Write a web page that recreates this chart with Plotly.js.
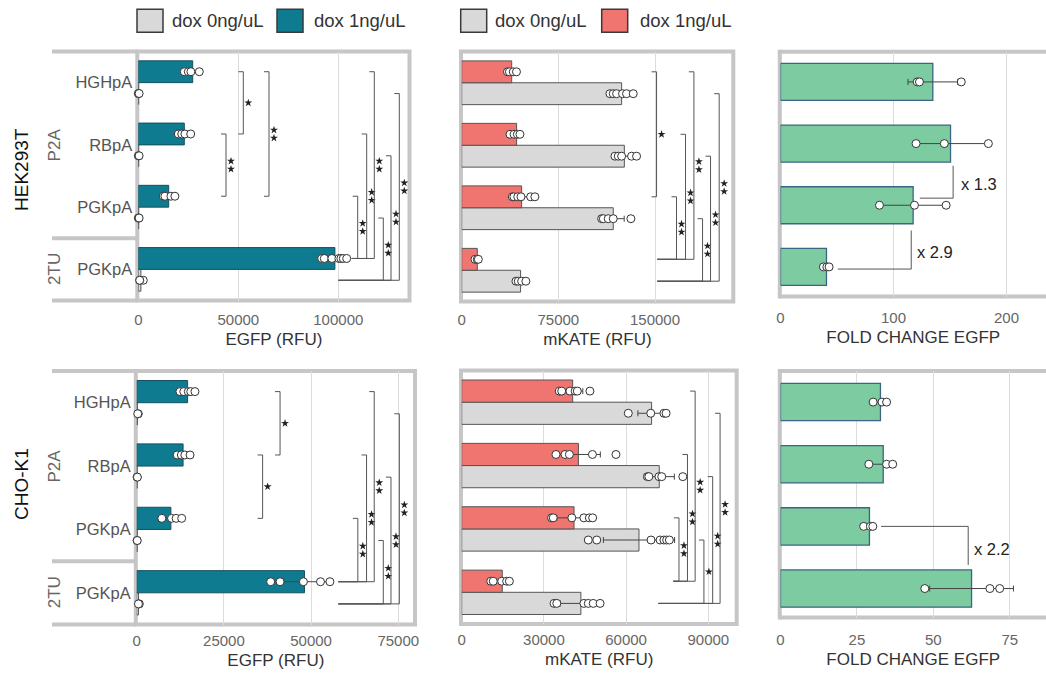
<!DOCTYPE html>
<html><head><meta charset="utf-8">
<script src="https://cdn.plot.ly/plotly-3.0.1.min.js"></script>
<style>html,body{margin:0;padding:0;background:#fff}#chart{width:1046px;height:673px}</style>
</head><body><div id="chart"></div>
<script>
// ---------------- DATA ----------------
const categories = ['HGHpA', 'RBpA', 'PGKpA', 'PGKpA'];
const constructGroups = ['P2A', '2TU'];
const cellLines = ['HEK293T', 'CHO-K1'];
const doseLabels = ['dox 0ng/uL', 'dox 1ng/uL'];
const axisTitles = ['EGFP (RFU)', 'mKATE (RFU)', 'FOLD CHANGE EGFP'];

// HEK293T - EGFP
const hekEgfpDox1 = [27200, 23000, 15200, 98300];
const hekEgfpDox1Err = [3000, 2600, 2600, 4500];
const hekEgfpDox1Pts = [[23000, 25000, 26300, 30500], [20000, 21700, 23300, 26200], [12500, 13300, 16300, 18300], [91700, 93000, 96800, 100300, 101300, 102500, 104200]];
const hekEgfpDox0 = [200, 200, 200, 1300];
const hekEgfpDox0Err = [100, 100, 100, 1200];
const hekEgfpDox0Pts = [[0, 200, 400], [0, 200, 400], [0, 200, 400], [2500, 700, 700]];

// HEK293T - mKATE
const hekMkateDox1 = [38800, 42600, 46500, 12100];
const hekMkateDox1Err = [2500, 3000, 6500, 800];
const hekMkateDox1Pts = [[35500, 37000, 40000, 42500], [37500, 40600, 43200, 45200], [39300, 40500, 43500, 46000, 53500, 56800], [10300, 12100, 12900]];
const hekMkateDox0 = [124100, 126200, 117600, 45700];
const hekMkateDox0Err = [6500, 6500, 8500, 3000];
const hekMkateDox0Pts = [[115000, 117600, 120200, 124800, 127900, 133100], [118900, 121500, 124100, 131800, 135700], [108600, 109900, 113700, 117600, 131300], [42100, 43900, 46500, 49800]];

// HEK293T - fold change EGFP
const hekFold = [134.8, 150.5, 117.4, 40.7];
const hekFoldErr = [22, 32, 29.5, 2.5];
const hekFoldPts = [[121, 123, 160], [120, 145, 184], [87.6, 118.6, 146.6], [38, 41, 43]];

// CHO-K1 - EGFP
const choEgfpDox1 = [14600, 13300, 9800, 48100];
const choEgfpDox1Err = [1700, 1500, 2400, 7000];
const choEgfpDox1Pts = [[12400, 13500, 14800, 15500, 16700], [11600, 12800, 13800, 15300], [7200, 10000, 11300, 12900], [38400, 41100, 47800, 52700, 55400]];
const choEgfpDox0 = [200, 150, 150, 500];
const choEgfpDox0Err = [100, 100, 100, 200];
const choEgfpDox0Pts = [[460, 300], [100, 200], [100, 150], [750, 500]];

// CHO-K1 - mKATE
const choMkateDox1 = [40500, 42600, 41000, 14800];
const choMkateDox1Err = [3700, 8000, 6300, 2900];
const choMkateDox1Pts = [[35600, 36500, 39500, 41400, 42200, 46800], [34400, 37700, 39300, 47700, 56300], [32800, 33400, 40200, 44600, 46600, 47800], [10600, 11500, 14600, 16400, 17400]];
const choMkateDox0 = [69300, 72100, 64700, 43500];
const choMkateDox0Err = [5000, 5500, 13000, 7500];
const choMkateDox0Pts = [[60800, 69000, 73800, 74600], [67800, 68300, 72000, 73000, 80700], [46200, 49300, 69100, 72400, 73800, 74800, 75800], [33700, 34700, 44600, 46200, 48000, 50500]];

// CHO-K1 - fold change EGFP
const choFold = [32.7, 33.6, 29.1, 62.5];
const choFoldErr = [2.2, 4, 1.6, 13.7];
const choFoldPts = [[30.3, 33.2, 34.7], [28.9, 34.7, 36.7], [27.2, 29.4, 30.2], [47.2, 68.5, 71.7]];

// significance comparisons: [catA, doseA, catB, doseB, bracket level, number of stars, baseline start]
const hekEgfpSig = [
  [0, 1, 1, 1, 52500, 1, null], [0, 1, 2, 1, 65350, 2, null], [1, 1, 2, 1, 43850, 2, null],
  [2, 1, 3, 1, 109700, 2, 106700], [1, 1, 3, 1, 114200, 2, 106700], [0, 1, 3, 1, 118000, 2, 106700],
  [2, 0, 3, 0, 122500, 2, 100000], [1, 0, 3, 0, 126350, 2, 100000], [0, 0, 3, 0, 130500, 2, 100000]];
const hekMkateSig = [
  [0, 1, 2, 1, 151200, 1, null],
  [2, 1, 3, 1, 166700, 2, 151700], [1, 1, 3, 1, 173700, 2, 151700], [0, 1, 3, 1, 180200, 2, 151700],
  [2, 0, 3, 0, 186900, 2, 151700], [1, 0, 3, 0, 193100, 2, 151700], [0, 0, 3, 0, 199800, 2, 151700]];
const choEgfpSig = [
  [0, 1, 1, 1, 41100, 1, null], [1, 1, 2, 1, 36100, 1, null],
  [2, 1, 3, 1, 63400, 2, 57800], [1, 1, 3, 1, 65900, 2, 57800], [0, 1, 3, 1, 68100, 2, 57800],
  [2, 0, 3, 0, 70700, 2, 57800], [1, 0, 3, 0, 72900, 2, 57800], [0, 0, 3, 0, 75300, 2, 57800]];
const choMkateSig = [
  [2, 1, 3, 1, 79300, 2, 77200], [1, 1, 3, 1, 82400, 2, 77200], [0, 1, 3, 1, 85200, 2, 77200],
  [2, 0, 3, 0, 88400, 1, 71800], [1, 0, 3, 0, 91600, 2, 71800], [0, 0, 3, 0, 94300, 2, 71800]];

// fold-change ratio callouts
const hekRatioLabels = ['x 1.3', 'x 2.9'];
const choRatioLabels = ['x 2.2'];

// ---------------- LAYOUT HELPERS ----------------
const W = 1046, H = 673;
const OFF = 0.175, BW = 0.35, FBW = 0.6;
const FONT = 'Liberation Sans, Arial, Helvetica, sans-serif';
const C = {gray: '#d9d9d9', teal: '#0e7b90', red: '#f07470', green: '#7ccba1', frame: '#c6c6c6', br: '#555'};
const fx = px => px / W;
const fy = py => 1 - py / H;

const panels = [
  {k: 1, px: [138.3, 409.5], py: [51.5, 300.5], max: 135600, yr: [3.5, -0.5], tv: [0, 50000, 100000], title: axisTitles[0], labels: true, tls: 8},
  {k: 2, px: [461.7, 733.3], py: [51.5, 301.5], max: 210760, yr: [3.5, -0.5], tv: [0, 75000, 150000], title: axisTitles[1], tls: 7},
  {k: 3, px: [780.5, 1046], py: [51.7, 296.5], max: 235, yr: [3.48, -0.49], tv: [0, 100, 200], title: axisTitles[2], tls: 10},
  {k: 4, px: [136.7, 415], py: [371, 624.5], max: 79790, yr: [3.5, -0.5], tv: [0, 25000, 50000, 75000], title: axisTitles[0], labels: true, tls: 5},
  {k: 5, px: [461.7, 736.7], py: [370.5, 624], max: 100365, yr: [3.5, -0.5], tv: [0, 30000, 60000, 90000], title: axisTitles[1], tls: 5},
  {k: 6, px: [780.5, 1046], py: [371, 617.5], max: 86.85, yr: [3.466, -0.5], tv: [0, 25, 50, 75], title: axisTitles[2], tls: 11}
];
const ax = k => (k === 1 ? '' : String(k));

const traces = [];
const shapes = [];
const annotations = [];

function addBars(k, vals, errs, off, width, fill, edge, ew) {
  traces.push({
    type: 'bar', orientation: 'h', x: vals, y: vals.map((_, i) => i + off), width: width,
    xaxis: 'x' + ax(k), yaxis: 'y' + ax(k),
    marker: {color: fill, line: {color: edge, width: ew || 1}},
    error_x: {type: 'data', array: errs, visible: true, color: '#444', thickness: 1, width: 3},
    showlegend: false, hoverinfo: 'x'
  });
}
function addPts(k, pts, off) {
  const x = [], y = [];
  pts.forEach((arr, i) => arr.forEach(v => { x.push(v); y.push(i + off); }));
  traces.push({
    type: 'scatter', mode: 'markers', x: x, y: y, xaxis: 'x' + ax(k), yaxis: 'y' + ax(k),
    marker: {size: 8, color: '#fff', line: {color: '#333', width: 1}},
    cliponaxis: false, showlegend: false, hoverinfo: 'x'
  });
}
function dosePanel(k, d0, e0, p0, d1, e1, p1, c1, c1edge) {
  addBars(k, d0, e0, OFF, BW, C.gray, '#555');
  addBars(k, d1, e1, -OFF, BW, c1, c1edge);
  addPts(k, p0, OFF);
  addPts(k, p1, -OFF);
}
function foldPanel(k, v, e, p) {
  addBars(k, v, e, 0, FBW, C.green, '#3a6680', 1.3);
  addPts(k, p, 0);
}

dosePanel(1, hekEgfpDox0, hekEgfpDox0Err, hekEgfpDox0Pts, hekEgfpDox1, hekEgfpDox1Err, hekEgfpDox1Pts, C.teal, '#16505c');
dosePanel(2, hekMkateDox0, hekMkateDox0Err, hekMkateDox0Pts, hekMkateDox1, hekMkateDox1Err, hekMkateDox1Pts, C.red, '#555');
foldPanel(3, hekFold, hekFoldErr, hekFoldPts);
dosePanel(4, choEgfpDox0, choEgfpDox0Err, choEgfpDox0Pts, choEgfpDox1, choEgfpDox1Err, choEgfpDox1Pts, C.teal, '#16505c');
dosePanel(5, choMkateDox0, choMkateDox0Err, choMkateDox0Pts, choMkateDox1, choMkateDox1Err, choMkateDox1Pts, C.red, '#555');
foldPanel(6, choFold, choFoldErr, choFoldPts);

// significance brackets with star markers
const yOf = (cat, dose) => cat + (dose === 1 ? -OFF : OFF);
function addSig(k, list) {
  const p = panels[k - 1];
  const upx = p.max / (p.px[1] - p.px[0]);                       // data units per px (x)
  const vpx = (p.yr[0] - p.yr[1]) / (p.py[1] - p.py[0]);         // data units per px (y)
  const t = 5 * upx;
  const sx = [], sy = [];
  list.forEach(b => {
    const ya = yOf(b[0], b[1]), yb = yOf(b[2], b[3]), x = b[4];
    const xs = b[6] === null ? x - t : b[6];
    shapes.push({type: 'path', xref: 'x' + ax(k), yref: 'y' + ax(k),
      path: `M ${x - t},${ya} L ${x},${ya} L ${x},${yb} L ${xs},${yb}`,
      line: {color: C.br, width: 1}});
    const ym = (ya + yb) / 2;
    if (b[5] === 2) { sx.push(x + 5 * upx, x + 5 * upx); sy.push(ym - 4 * vpx, ym + 4 * vpx); }
    else { sx.push(x + 5 * upx); sy.push(ym); }
  });
  traces.push({type: 'scatter', mode: 'markers', x: sx, y: sy, xaxis: 'x' + ax(k), yaxis: 'y' + ax(k),
    marker: {symbol: 'star', size: 6, color: '#222', line: {width: 0}}, cliponaxis: false, showlegend: false, hoverinfo: 'skip'});
}
addSig(1, hekEgfpSig);
addSig(2, hekMkateSig);
addSig(4, choEgfpSig);
addSig(5, choMkateSig);

// fold ratio callouts
function ratio(k, pts, label, lx, ly) {
  shapes.push({type: 'path', xref: 'x' + ax(k), yref: 'y' + ax(k),
    path: 'M ' + pts.map(q => q[0] + ',' + q[1]).join(' L '), line: {color: C.br, width: 1}});
  annotations.push({xref: 'x' + ax(k), yref: 'y' + ax(k), x: lx, y: ly, text: label, showarrow: false,
    xanchor: 'left', yanchor: 'middle', font: {size: 16.5, color: '#222', family: FONT}});
}
ratio(3, [[152.8, 1.36], [152.8, 1.885], [123.3, 1.885]], hekRatioLabels[0], 158, 1.65);
ratio(3, [[115.7, 2.41], [115.7, 3.035], [50.7, 3.035]], hekRatioLabels[1], 119, 2.76);
ratio(6, [[32.9, 2.0], [61.4, 2.0], [61.4, 2.62]], choRatioLabels[0], 62.8, 2.365);

// frames
function pline(x0, y0, x1, y1) {
  shapes.push({type: 'line', xref: 'paper', yref: 'paper', x0: fx(x0), y0: fy(y0), x1: fx(x1), y1: fy(y1),
    line: {color: C.frame, width: 4}, layer: 'below'});
}
function prect(x0, y0, x1, y1) {
  shapes.push({type: 'rect', xref: 'paper', yref: 'paper', x0: fx(x0), y0: fy(y0), x1: fx(x1), y1: fy(y1),
    line: {color: C.frame, width: 4}, fillcolor: 'rgba(0,0,0,0)', layer: 'below'});
}
// row 1
prect(137.3, 51.5, 409.5, 300.5); pline(52, 51.5, 137.3, 51.5); pline(52, 300.5, 137.3, 300.5);
shapes.push({type: 'line', xref: 'paper', yref: 'y', x0: fx(52), x1: fx(137.3), y0: 2.5, y1: 2.5, line: {color: C.frame, width: 4}, layer: 'below'});
prect(461, 51.5, 733.3, 301.5);
pline(779.8, 51.7, 1050, 51.7); pline(779.8, 296.5, 1050, 296.5); pline(779.8, 49.7, 779.8, 298.5);
// row 2
prect(135.8, 371, 415, 624.5); pline(52, 371, 135.8, 371); pline(52, 624.5, 135.8, 624.5);
shapes.push({type: 'line', xref: 'paper', yref: 'y4', x0: fx(52), x1: fx(135.8), y0: 2.5, y1: 2.5, line: {color: C.frame, width: 4}, layer: 'below'});
prect(461, 370.5, 736.7, 624);
pline(779.8, 371, 1050, 371); pline(779.8, 617.5, 1050, 617.5); pline(779.8, 369, 779.8, 619.5);

// legends
function legendItem(x0, fill, text, tx) {
  shapes.push({type: 'rect', xref: 'paper', yref: 'paper', x0: fx(x0), x1: fx(x0 + 26), y0: fy(9.3), y1: fy(32.3),
    fillcolor: fill, line: {color: '#3a3a3a', width: 1.5}});
  annotations.push({xref: 'paper', yref: 'paper', x: fx(tx), y: fy(20.8), xanchor: 'left', yanchor: 'middle',
    text: text, showarrow: false, font: {size: 18.5, color: '#333', family: FONT}});
}
legendItem(137, C.gray, doseLabels[0], 169.5);
legendItem(277, C.teal, doseLabels[1], 311.5);
legendItem(460.7, C.gray, doseLabels[0], 492.5);
legendItem(601.7, C.red, doseLabels[1], 637.5);

// row labels & group labels
annotations.push({xref: 'paper', yref: 'paper', x: fx(21.5), y: fy(169.5), text: cellLines[0], textangle: -90, showarrow: false,
  xanchor: 'center', yanchor: 'middle', font: {size: 19, color: '#111', family: FONT}});
annotations.push({xref: 'paper', yref: 'paper', x: fx(21), y: fy(484), text: cellLines[1], textangle: -90, showarrow: false,
  xanchor: 'center', yanchor: 'middle', font: {size: 19, color: '#111', family: FONT}});
[['y', 1], ['y', 3], ['y4', 1], ['y4', 3]].forEach((g, i) => {
  annotations.push({xref: 'paper', yref: g[0], x: fx(54.5), y: g[1], text: constructGroups[i % 2], textangle: -90,
    xanchor: 'center', yanchor: 'middle', showarrow: false, font: {size: 17, color: '#666', family: FONT}});
});

// ---------------- LAYOUT ----------------
const layout = {
  width: W, height: H, margin: {l: 0, r: 0, t: 0, b: 0}, paper_bgcolor: '#fff', plot_bgcolor: 'rgba(0,0,0,0)',
  barmode: 'overlay', showlegend: false, font: {family: FONT, color: '#333'},
  shapes: shapes, annotations: annotations
};
panels.forEach(p => {
  layout['xaxis' + ax(p.k)] = {
    domain: [fx(p.px[0]), fx(p.px[1])], range: [0, p.max], anchor: 'y' + ax(p.k),
    tickvals: p.tv, ticktext: p.tv.map(String), showgrid: true, gridcolor: '#dcdcdc', gridwidth: 1,
    zeroline: false, showline: false, ticks: '', tickfont: {size: 15, color: '#666'}, ticklabelstandoff: p.tls,
    title: {text: p.title, font: {size: 17, color: '#333'}, standoff: 6}, fixedrange: true
  };
  layout['yaxis' + ax(p.k)] = {
    domain: [fy(p.py[1]), fy(p.py[0])], range: p.yr, anchor: 'x' + ax(p.k),
    tickvals: [0, 1, 2, 3], ticktext: categories, showticklabels: !!p.labels, showgrid: false,
    zeroline: false, showline: false, ticks: '', tickfont: {size: 16.5, color: '#555'}, ticklabelstandoff: 5, fixedrange: true
  };
});

Plotly.newPlot('chart', traces, layout, {displayModeBar: false, staticPlot: true});
</script>
</body></html>
